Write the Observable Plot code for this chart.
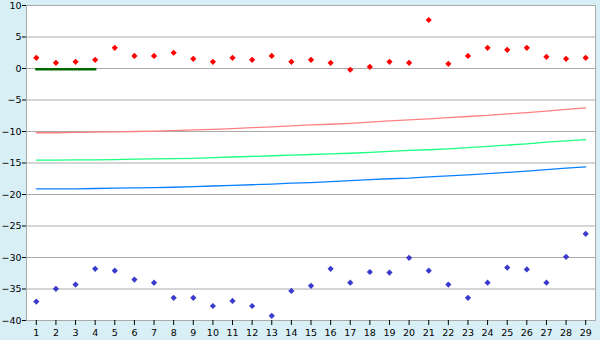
<!DOCTYPE html>
<html>
<head>
<meta charset="utf-8">
<script src="https://cdn.jsdelivr.net/npm/d3@7"></script>
<script src="https://cdn.jsdelivr.net/npm/@observablehq/plot@0.6"></script>
<style>
  html, body { margin: 0; padding: 0; background: #d9eff6; }
  #chart svg { display: block; }
</style>
</head>
<body>
<div id="chart"></div>
<script>
const categories = d3.range(1, 30);
const redPoints = [1.7, 0.9, 1.06, 1.38, 3.28, 2.0, 2.0, 2.5, 1.54, 1.06, 1.7, 1.38, 2.0, 1.06,
  1.38, 0.9, -0.2, 0.27, 1.06, 0.9, 7.7, 0.74, 2.0, 3.28, 2.96, 3.28, 1.85, 1.54, 1.7];
const bluePoints = [-37.0, -34.97, -34.3, -31.8, -32.1, -33.5, -34.0, -36.4, -36.4, -37.7, -36.9, -37.7, -39.25, -35.3,
  -34.5, -31.8, -34.0, -32.3, -32.4, -30.05, -32.1, -34.3, -36.4, -34.0, -31.6, -31.9, -34.0, -29.9, -26.24];
const redLine = [-10.2, -10.2, -10.15, -10.1, -10.05, -10.0, -9.95, -9.85, -9.75, -9.65, -9.55, -9.4, -9.25, -9.1,
  -8.95, -8.85, -8.7, -8.5, -8.3, -8.15, -8.0, -7.8, -7.62, -7.45, -7.2, -7.0, -6.75, -6.5, -6.25];
const greenLine = [-14.55, -14.55, -14.5, -14.5, -14.45, -14.4, -14.35, -14.3, -14.25, -14.15, -14.05, -13.95, -13.85, -13.75,
  -13.65, -13.55, -13.45, -13.3, -13.15, -13.0, -12.9, -12.75, -12.55, -12.35, -12.15, -11.95, -11.7, -11.5, -11.3];
const blueLine = [-19.1, -19.1, -19.1, -19.05, -19.0, -18.95, -18.9, -18.85, -18.75, -18.65, -18.55, -18.45, -18.35, -18.2,
  -18.1, -17.95, -17.8, -17.65, -17.5, -17.4, -17.2, -17.05, -16.9, -16.7, -16.5, -16.3, -16.05, -15.8, -15.6];
const baseCats = [1, 2, 3, 4];
const baseValues = [-0.12, -0.12, -0.12, -0.12];
const yTicks = [-40, -35, -30, -25, -20, -15, -10, -5, 0, 5, 10];

const toRows = (vals, cats = categories) => cats.map((c, i) => ({c, v: vals[i]}));

const chart = Plot.plot({
  width: 600,
  height: 340,
  marginLeft: 26,
  marginRight: 5,
  marginTop: 5,
  marginBottom: 20,
  style: {background: "#d9eff6", fontFamily: "DejaVu Sans, Verdana, sans-serif", fontSize: "9.5px", color: "black"},
  x: {type: "point", domain: categories, padding: 0.5, round: false, label: null},
  y: {domain: [-40, 10], ticks: yTicks, label: null},
  marks: [
    Plot.frame({fill: "white", stroke: "#aaaaaa"}),
    Plot.gridY(yTicks, {stroke: "#aaaaaa", strokeOpacity: 1}),
    Plot.axisY(yTicks, {tickSize: 4, tickPadding: 1, tickFormat: d => d < 0 ? "\u2212" + Math.abs(d) : String(d)}),
    Plot.axisX({tickSize: 5, tickPadding: 4, stroke: "black"}),
    Plot.line(toRows(redLine), {x: "c", y: "v", stroke: "#ff8080", strokeWidth: 1.3}),
    Plot.line(toRows(greenLine), {x: "c", y: "v", stroke: "#1aff80", strokeWidth: 1.3}),
    Plot.line(toRows(blueLine), {x: "c", y: "v", stroke: "#0a80ff", strokeWidth: 1.3}),
    Plot.line(toRows(baseValues, baseCats), {x: "c", y: "v", stroke: "#006600", strokeWidth: 2.5}),
    Plot.dot(toRows(redPoints), {x: "c", y: "v", symbol: "diamond2", r: 2.8, fill: "#ff0000", stroke: "none"}),
    Plot.dot(toRows(bluePoints), {x: "c", y: "v", symbol: "diamond2", r: 2.8, fill: "#3a3acc", stroke: "none"})
  ]
});
document.getElementById("chart").appendChild(chart);
</script>
</body>
</html>
